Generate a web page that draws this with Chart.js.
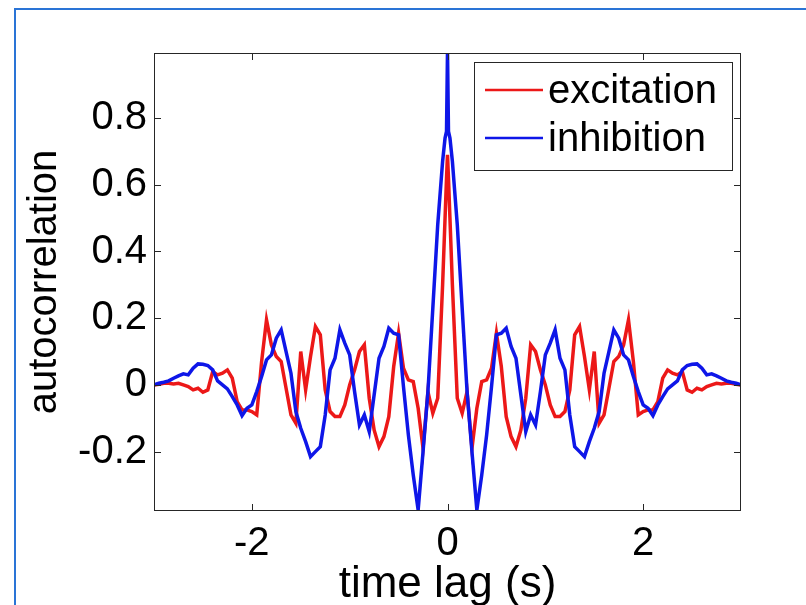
<!DOCTYPE html>
<html>
<head>
<meta charset="UTF-8">
<title>autocorrelation</title>
<script src="https://cdn.jsdelivr.net/npm/chart.js"></script>
<style>
  html, body { margin: 0; padding: 0; background: #fff; }
  #frame {
    position: absolute; left: 14px; top: 8px; width: 800px; height: 600px;
    border-left: 2px solid #2a74d6; border-top: 2px solid #2a74d6;
  }
  #wrap { position: absolute; left: 0; top: 0; width: 806px; height: 605px; }
</style>
</head>
<body>
<div id="frame"></div>
<div id="wrap"><canvas id="acf" width="806" height="605"></canvas></div>
<script>
// time lag (s)
const lags = [
  -3.00, -2.95, -2.90, -2.85, -2.80, -2.75, -2.70, -2.65, -2.60, -2.55,
  -2.50, -2.45, -2.40, -2.35, -2.30, -2.25, -2.20, -2.15, -2.10, -2.05,
  -2.00, -1.95, -1.90, -1.85, -1.80, -1.75, -1.70, -1.65, -1.60, -1.55,
  -1.50, -1.45, -1.40, -1.35, -1.30, -1.25, -1.20, -1.15, -1.10, -1.05,
  -1.00, -0.95, -0.90, -0.85, -0.80, -0.75, -0.70, -0.65, -0.60, -0.55,
  -0.50, -0.45, -0.40, -0.35, -0.30, -0.25, -0.20, -0.15, -0.10, -0.05,
  -0.025, -0.01, 0, 0.01, 0.025,
  0.05, 0.10, 0.15, 0.20, 0.25, 0.30, 0.35, 0.40, 0.45, 0.50,
  0.55, 0.60, 0.65, 0.70, 0.75, 0.80, 0.85, 0.90, 0.95, 1.00,
  1.05, 1.10, 1.15, 1.20, 1.25, 1.30, 1.35, 1.40, 1.45, 1.50,
  1.55, 1.60, 1.65, 1.70, 1.75, 1.80, 1.85, 1.90, 1.95, 2.00,
  2.05, 2.10, 2.15, 2.20, 2.25, 2.30, 2.35, 2.40, 2.45, 2.50,
  2.55, 2.60, 2.65, 2.70, 2.75, 2.80, 2.85, 2.90, 2.95, 3.00
];

const excitation = [
  0, 0.002, 0.005, 0.005, 0.003, 0.005, 0, -0.005, -0.015, -0.01,
  -0.022, -0.015, 0.04, 0.03, 0.035, 0.045, 0.02, -0.05, -0.075, -0.075,
  -0.08, -0.09, 0.07, 0.195, 0.12, 0.085, 0.07, -0.01, -0.09, -0.115,
  0.1, -0.015, 0.085, 0.175, 0.15, -0.015, -0.08, -0.095, -0.095, -0.06,
  0, 0.045, 0.1, 0.12, -0.04, -0.135, -0.185, -0.155, -0.095, 0.055,
  0.155, 0.05, 0.015, 0.01, -0.07, -0.19, -0.02, -0.085, -0.04, 0.3,
  0.5, 0.62, 0.69, 0.62, 0.5,
  0.3, -0.04, -0.085, -0.02, -0.19, -0.07, 0.01, 0.015, 0.05, 0.155,
  0.055, -0.095, -0.155, -0.185, -0.135, -0.04, 0.12, 0.1, 0.045, 0,
  -0.06, -0.095, -0.095, -0.08, -0.015, 0.15, 0.175, 0.085, -0.015, 0.1,
  -0.115, -0.09, -0.01, 0.07, 0.085, 0.12, 0.195, 0.07, -0.09, -0.08,
  -0.075, -0.075, -0.05, 0.02, 0.045, 0.035, 0.03, 0.04, -0.015, -0.022,
  -0.01, -0.015, -0.005, 0, 0.005, 0.003, 0.005, 0.005, 0.002, 0
];

const inhibition = [
  0, 0.005, 0.008, 0.012, 0.02, 0.027, 0.033, 0.03, 0.05, 0.063,
  0.062, 0.058, 0.045, 0.012, 0, -0.012, -0.035, -0.06, -0.092, -0.07,
  -0.06, -0.02, 0.025, 0.075, 0.09, 0.14, 0.165, 0.1, 0.035, -0.08,
  -0.13, -0.17, -0.215, -0.2, -0.185, -0.09, 0.045, 0.08, 0.165, 0.125,
  0.09, -0.02, -0.12, -0.09, -0.14, -0.03, 0.08, 0.115, 0.17, 0.155,
  0.15, -0.005, -0.15, -0.27, -0.375, -0.2, -0.02, 0.23, 0.48, 0.67,
  0.74, 0.76, 1.0, 0.76, 0.74,
  0.67, 0.48, 0.23, -0.02, -0.2, -0.375, -0.27, -0.15, -0.005, 0.15,
  0.155, 0.17, 0.115, 0.08, -0.03, -0.14, -0.09, -0.12, -0.02, 0.09,
  0.125, 0.165, 0.08, 0.045, -0.09, -0.185, -0.2, -0.215, -0.17, -0.13,
  -0.08, 0.035, 0.1, 0.165, 0.14, 0.09, 0.075, 0.025, -0.02, -0.06,
  -0.07, -0.092, -0.06, -0.035, -0.012, 0, 0.012, 0.045, 0.058, 0.062,
  0.063, 0.05, 0.03, 0.033, 0.027, 0.02, 0.012, 0.008, 0.005, 0
];

const xTicks = [-2, 0, 2];
const yTicks = [-0.2, 0, 0.2, 0.4, 0.6, 0.8];

const FONT = "'Liberation Sans', Arial, Helvetica, sans-serif";

function points(ys) {
  return lags.map((t, i) => ({ x: t, y: ys[i] }));
}

// matlab style box, inward ticks and legend
const axesBox = {
  id: 'axesBox',
  afterDatasetsDraw(chart) {
    const { ctx, chartArea: a, scales } = chart;
    const tl = 7;
    ctx.save();
    ctx.strokeStyle = '#262626';
    ctx.lineWidth = 1;
    ctx.strokeRect(a.left + 0.5, a.top + 0.5, a.right - a.left - 1, a.bottom - a.top - 1);
    ctx.beginPath();
    xTicks.forEach(v => {
      const px = Math.round(scales.x.getPixelForValue(v)) + 0.5;
      ctx.moveTo(px, a.bottom); ctx.lineTo(px, a.bottom - tl);
      ctx.moveTo(px, a.top); ctx.lineTo(px, a.top + tl);
    });
    yTicks.forEach(v => {
      const py = Math.round(scales.y.getPixelForValue(v)) + 0.5;
      ctx.moveTo(a.left, py); ctx.lineTo(a.left + tl, py);
      ctx.moveTo(a.right, py); ctx.lineTo(a.right - tl, py);
    });
    ctx.stroke();

    // legend
    const bx = a.right - 267, by = a.top + 9, bw = 258, bh = 108;
    ctx.fillStyle = '#fff';
    ctx.fillRect(bx, by, bw, bh);
    ctx.strokeStyle = '#262626';
    ctx.strokeRect(bx + 0.5, by + 0.5, bw, bh);
    const sets = chart.data.datasets;
    ctx.font = '40px ' + FONT;
    ctx.textBaseline = 'middle';
    ctx.textAlign = 'left';
    sets.forEach((ds, i) => {
      const y = by + 28 + i * 48;
      ctx.strokeStyle = ds.borderColor;
      ctx.lineWidth = 2.5;
      ctx.beginPath();
      ctx.moveTo(bx + 11, y); ctx.lineTo(bx + 69, y);
      ctx.stroke();
      ctx.fillStyle = '#000';
      ctx.fillText(ds.label, bx + 74, y + 2);
    });
    ctx.restore();
  }
};

new Chart(document.getElementById('acf'), {
  type: 'line',
  data: {
    datasets: [
      { label: 'excitation', data: points(excitation), borderColor: 'rgb(236,24,24)',
        borderWidth: 3.5, pointRadius: 0, tension: 0, clip: 0, order: 1 },
      { label: 'inhibition', data: points(inhibition), borderColor: 'rgb(14,22,232)',
        borderWidth: 3.5, pointRadius: 0, tension: 0, clip: 0, order: 0 }
    ]
  },
  options: {
    responsive: false,
    animation: false,
    layout: { padding: { top: 53, right: 65, left: 0, bottom: 0 } },
    scales: {
      x: {
        type: 'linear', min: -3, max: 3,
        grid: { display: false, drawTicks: false },
        border: { display: false },
        afterBuildTicks: s => { s.ticks = xTicks.map(v => ({ value: v })); },
        afterFit: s => { s.height = 94; },
        ticks: { color: '#000', font: { family: FONT, size: 40 }, padding: 9, maxRotation: 0,
                 callback: v => String(v) },
        title: { display: true, text: 'time lag (s)', color: '#000',
                 font: { family: FONT, size: 44, lineHeight: 1 }, padding: { top: 0, bottom: -2 } }
      },
      y: {
        min: -0.378, max: 0.995,
        grid: { display: false, drawTicks: false },
        border: { display: false },
        afterBuildTicks: s => { s.ticks = yTicks.map(v => ({ value: v })); },
        afterFit: s => { s.width = 154; },
        ticks: { color: '#000', font: { family: FONT, size: 40 }, padding: 7,
                 callback: v => String(v) },
        title: { display: true, text: 'autocorrelation', color: '#000',
                 font: { family: FONT, size: 40, lineHeight: 1 }, padding: { top: 25, bottom: 0 } }
      }
    },
    plugins: { legend: { display: false }, tooltip: { enabled: false } }
  },
  plugins: [axesBox]
});
</script>
</body>
</html>
